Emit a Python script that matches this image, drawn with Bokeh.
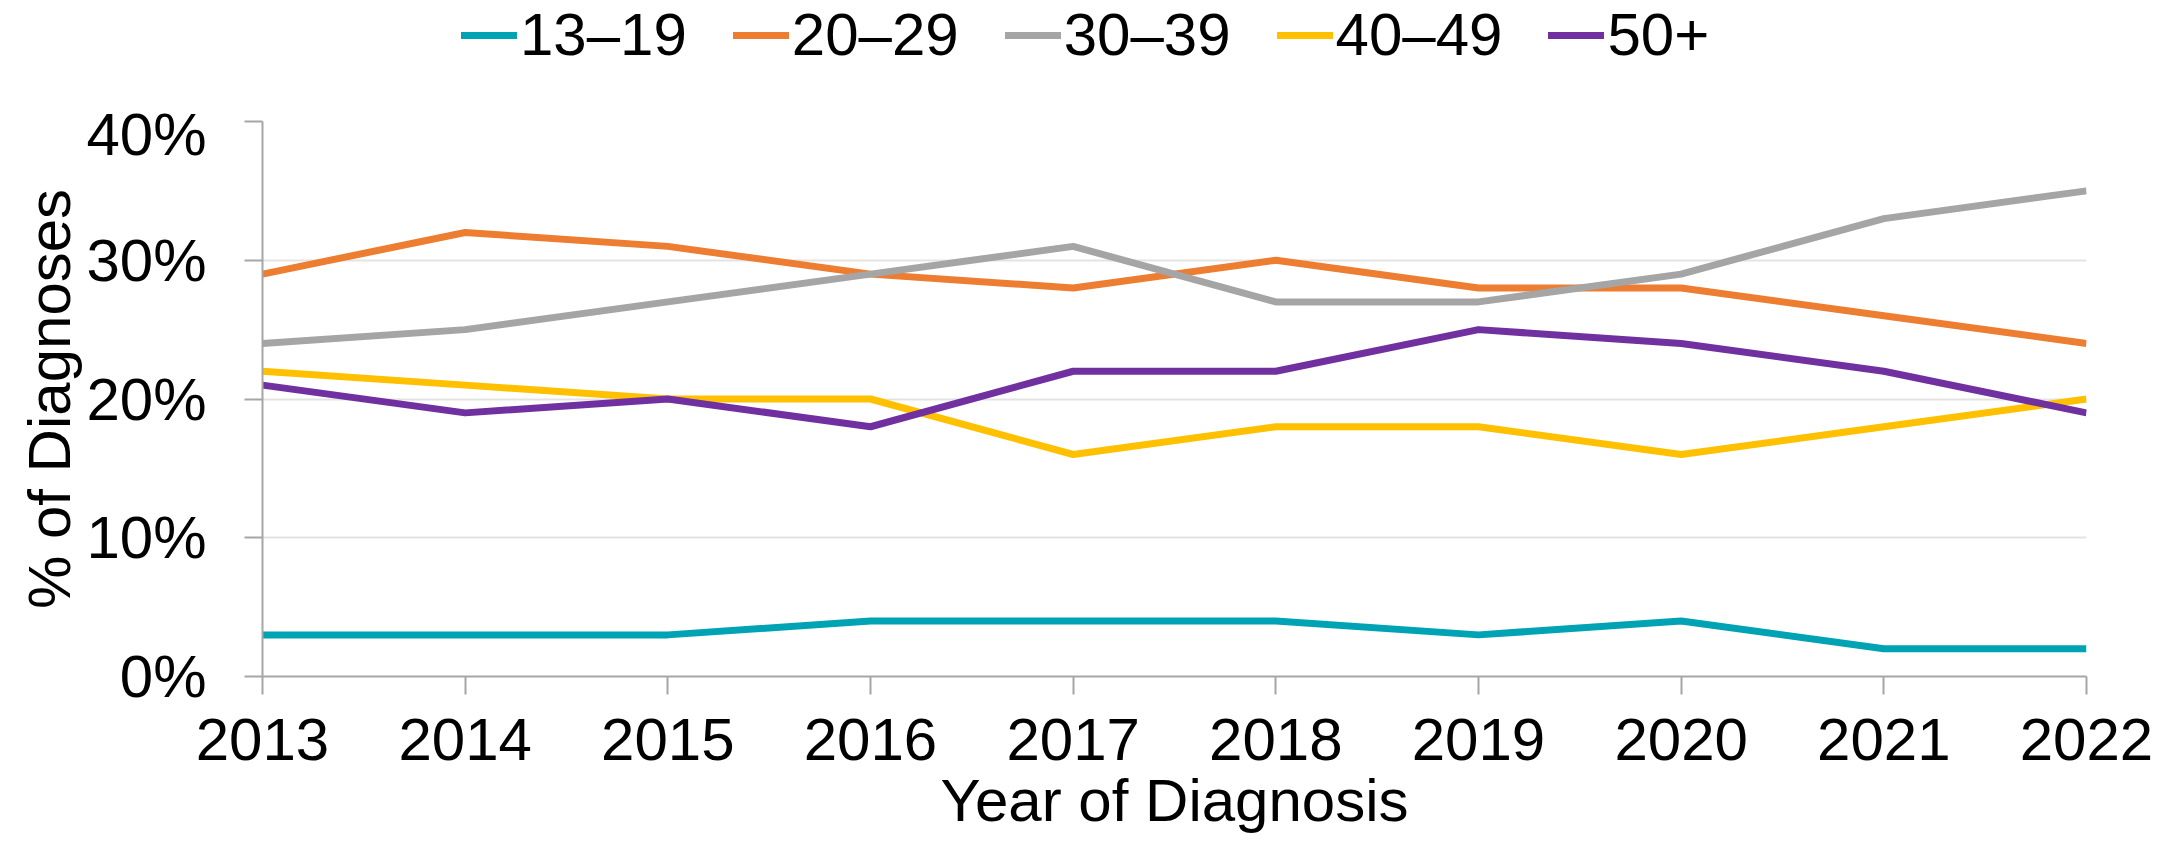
from bokeh.plotting import figure
from bokeh.layouts import column
from bokeh.models import Range1d, FixedTicker, PrintfTickFormatter, Legend, LegendItem
from bokeh.embed import file_html
from bokeh.resources import INLINE

years = [2013, 2014, 2015, 2016, 2017, 2018, 2019, 2020, 2021, 2022]
age_13_19 = [3, 3, 3, 4, 4, 4, 3, 4, 2, 2]
age_20_29 = [29, 32, 31, 29, 28, 30, 28, 28, 26, 24]
age_30_39 = [24, 25, 27, 29, 31, 27, 27, 29, 33, 35]
age_40_49 = [22, 21, 20, 20, 16, 18, 18, 16, 18, 20]
age_50_plus = [21, 19, 20, 18, 22, 22, 25, 24, 22, 19]
series_names = ["13\u201319", "20\u201329", "30\u201339", "40\u201349", "50+"]
series_colors = ["#00A3B4", "#ED7D31", "#A5A5A5", "#FFC000", "#7030A0"]
y_ticks = [0, 10, 20, 30, 40]
all_series = [age_13_19, age_20_29, age_30_39, age_40_49, age_50_plus]

FONT = "Liberation Sans"
LW = 7

# ---- legend strip (separate figure so the legend is not clipped by the chart frame) ----
lg = figure(width=2164, height=100, output_backend="svg", toolbar_location=None,
            x_axis_type=None, y_axis_type=None, x_range=Range1d(0, 1), y_range=Range1d(0, 1),
            min_border=0, min_border_left=0, min_border_right=0, min_border_top=0, min_border_bottom=0)
lg.outline_line_color = None
lg.xgrid.visible = False
lg.ygrid.visible = False
lg_items = []
for name, vals, col in zip(series_names, all_series, series_colors):
    # same series, lying outside this strip's visible range: only the legend swatch shows
    r = lg.line(years, vals, line_color=col, line_width=LW, line_cap="round")
    lg_items.append(LegendItem(label=name, renderers=[r]))
legend = Legend(items=lg_items, orientation="horizontal", location=(199, 31),
                label_text_font=FONT, label_text_font_size="60px", label_text_color="black",
                glyph_width=56, glyph_height=30, label_standoff=3, spacing=46,
                padding=0, margin=0, border_line_color=None, background_fill_alpha=0)
lg.add_layout(legend, "center")

# ---- main chart ----
p = figure(width=2164, height=744, output_backend="svg", toolbar_location=None,
           x_range=Range1d(2013, 2022), y_range=Range1d(0, 40),
           min_border_left=262, min_border_right=78, min_border_top=21, min_border_bottom=168)
p.outline_line_color = None

for name, vals, col in zip(series_names, all_series, series_colors):
    p.line(years, vals, line_color=col, line_width=LW, line_join="round")

p.xaxis.ticker = FixedTicker(ticks=years)
p.yaxis.ticker = FixedTicker(ticks=y_ticks)
p.yaxis.formatter = PrintfTickFormatter(format="%d%%")
for ax in (p.xaxis, p.yaxis):
    ax.axis_line_color = "#A6A6A6"
    ax.axis_line_width = 2
    ax.major_tick_line_color = "#A6A6A6"
    ax.major_tick_line_width = 2
    ax.major_tick_out = 18
    ax.major_tick_in = 0
    ax.minor_tick_line_color = None
    ax.major_label_text_font = FONT
    ax.major_label_text_font_size = "60px"
    ax.major_label_text_color = "black"
    ax.axis_label_text_font = FONT
    ax.axis_label_text_font_size = "60px"
    ax.axis_label_text_font_style = "normal"
    ax.axis_label_text_color = "black"
p.xaxis.axis_label = "Year of Diagnosis"
p.yaxis.axis_label = "% of Diagnoses"
p.xaxis.major_label_standoff = 24
p.yaxis.major_label_standoff = 38
p.xaxis.axis_label_standoff = 4
p.yaxis.axis_label_standoff = 0

p.xgrid.grid_line_color = None
p.ygrid.grid_line_color = "#E3E3E3"
p.ygrid.grid_line_width = 2

layout = column(lg, p, spacing=0)
open("out.html", "w").write(file_html(layout, INLINE))
